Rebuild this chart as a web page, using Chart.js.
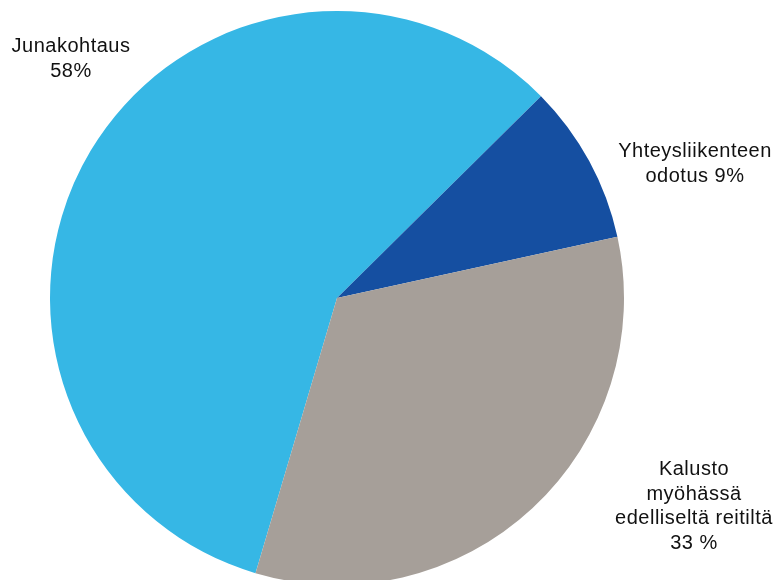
<!DOCTYPE html>
<html>
<head>
<meta charset="utf-8">
<script src="https://cdn.jsdelivr.net/npm/chart.js@4/dist/chart.umd.min.js"></script>
<style>
    html, body { margin: 0; padding: 0; background: #fff; overflow: hidden; }
    #wrap { position: relative; width: 778px; height: 600px; }
</style>
</head>
<body>
<div id="wrap"><canvas id="pie" width="778" height="600"></canvas></div>
<script>
// ---- data ----
const categories = ['Junakohtaus', 'Yhteysliikenteen odotus', 'Kalusto myöhässä edelliseltä reitiltä'];
const shares = [58, 9, 33];
const sliceColors = ['#36b7e5', '#154fa1', '#a69f99'];

// label text lines + anchor (center x, first baseline y)
const labelLines = [
    ['Junakohtaus', '58%'],
    ['Yhteysliikenteen', 'odotus 9%'],
    ['Kalusto', 'myöhässä', 'edelliseltä reitiltä', '33 %']
];
const labelAnchors = [[71, 52], [695, 157], [694, 475]];

// draws the outside labels as plain text
const outsideLabels = {
    id: 'outsideLabels',
    afterDraw(chart) {
        const ctx = chart.ctx;
        ctx.save();
        ctx.fillStyle = '#111';
        ctx.font = '20px "Liberation Sans"';
        ctx.letterSpacing = '0.5px';
        ctx.textAlign = 'center';
        ctx.textBaseline = 'alphabetic';
        labelLines.forEach((lines, i) => {
            const [x, y] = labelAnchors[i];
            lines.forEach((t, j) => ctx.fillText(t, x, y + j * 24.5));
        });
        ctx.restore();
    }
};

new Chart(document.getElementById('pie'), {
    type: 'pie',
    data: {
        labels: categories,
        datasets: [{
            data: shares,
            backgroundColor: sliceColors,
            borderWidth: 0
        }]
    },
    options: {
        responsive: false,
        animation: false,
        rotation: -163.5,
        layout: { padding: { left: 50, right: 154, top: 11, bottom: 15 } },
        plugins: {
            legend: { display: false },
            tooltip: { enabled: false }
        }
    },
    plugins: [outsideLabels]
});
</script>
</body>
</html>
